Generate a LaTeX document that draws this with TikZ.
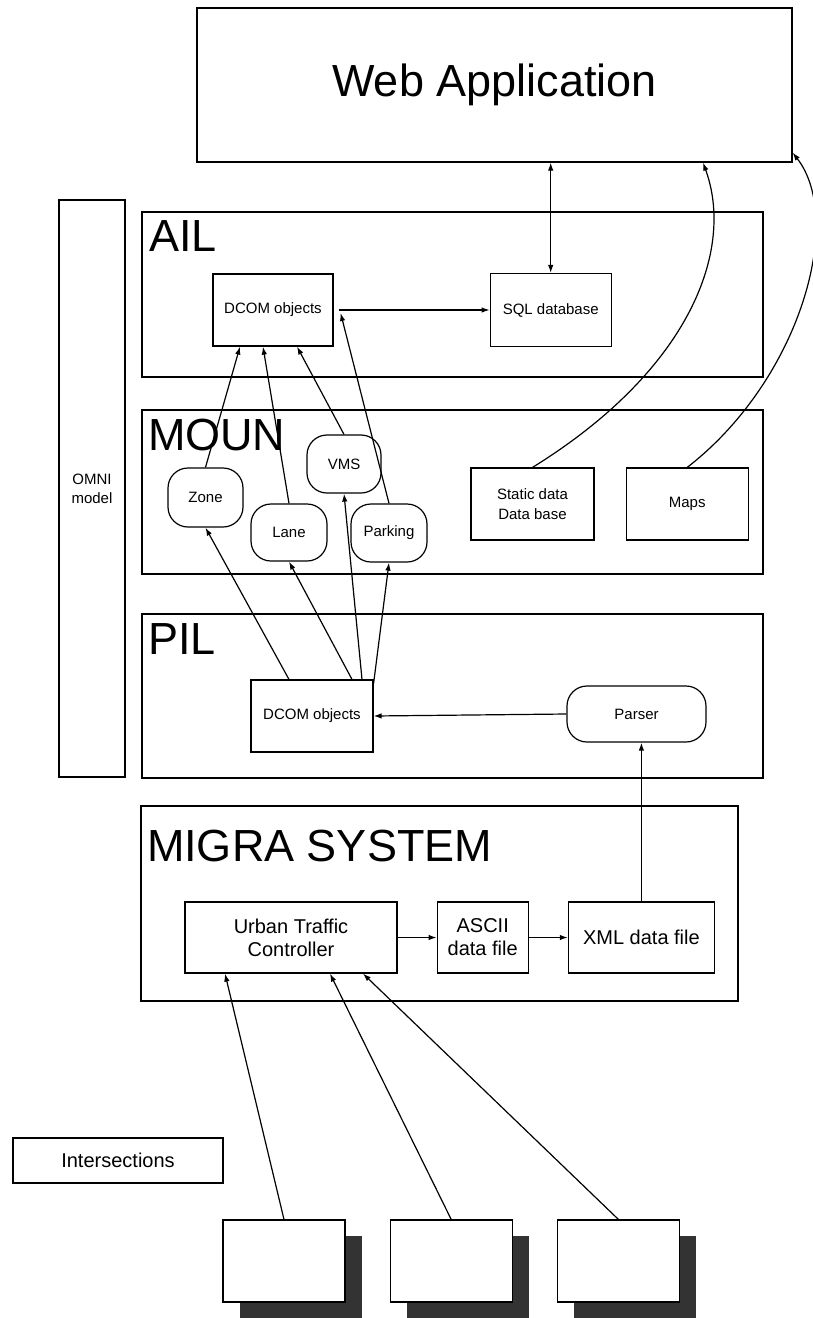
\documentclass[tikz,border=0pt]{standalone}
\usepackage{fontspec}
\setmainfont{Liberation Sans}
\usetikzlibrary{arrows.meta,positioning,shadows}
\definecolor{shadowgray}{RGB}{51,51,51}

\tikzset{
  layer/.style={draw, line width=1.2pt, inner sep=0pt},
  box/.style={draw, line width=1.2pt, fill=white, inner sep=0pt, align=center, font=\fontsize{15}{20}\selectfont},
  blob/.style={box, rounded corners=20pt},
  bigbox/.style={box, font=\fontsize{20}{23}\selectfont},
  title/.style={anchor=base west, inner sep=0pt, font=\fontsize{45}{54}\selectfont},
  site/.style={draw, line width=1.2pt, fill=white, minimum width=122pt, minimum height=82pt,
    drop shadow={shadow xshift=17pt, shadow yshift=-16pt, fill=shadowgray, opacity=1}},
  >={Latex[length=8pt,width=5.5pt]}
}

\begin{document}
\begin{tikzpicture}[x=1pt, y=-1pt, line width=1.2pt]
    \useasboundingbox (0,0) rectangle (813,1318);

    % layers
    \node[layer, minimum width=595pt, minimum height=154pt, font=\fontsize{45}{54}\selectfont] (webapp) at (494.5,85) {Web Application};
    \node[layer, minimum width=66pt, minimum height=577pt, align=center, font=\fontsize{15}{19}\selectfont] (omni) at (92,488.5) {OMNI\\model};
    \node[layer, minimum width=621pt, minimum height=165pt] (ail) at (452.5,294.5) {};
    \node[layer, minimum width=621pt, minimum height=164pt] (moun) at (452.5,492) {};
    \node[layer, minimum width=621pt, minimum height=164pt] (pil) at (452.5,696) {};
    \node[layer, minimum width=597pt, minimum height=195pt] (migra) at (439.5,903.5) {};

    \node[title] (ailtitle) at ([xshift=7pt,yshift=-40pt]ail.north west) {AIL};
    \node[title] (mountitle) at ([xshift=6pt,yshift=-41pt]moun.north west) {MOUN};
    \node[title] (piltitle) at ([xshift=6pt,yshift=-41pt]pil.north west) {PIL};
    \node[title] (migratitle) at ([xshift=6pt,yshift=-56pt]migra.north west) {MIGRA SYSTEM};

    % AIL
    \node[box, minimum width=120pt, minimum height=72pt] (adcom) at (273,310) {DCOM objects};
    \node[box, minimum width=121pt, minimum height=73pt, right=156pt of adcom] (sql) {SQL database};

    % MOUN
    \node[blob, minimum width=75pt, minimum height=59pt] (zone) at (205.5,497.5) {Zone};
    \node[blob, minimum width=76pt, minimum height=57pt] (lane) at (289,532.5) {Lane};
    \node[blob, minimum width=74pt, minimum height=58pt] (vms) at (344,464) {VMS};
    \node[blob, minimum width=76pt, minimum height=58pt] (parking) at (389,533) {Parking};
    \node[box, minimum width=123pt, minimum height=72pt] (static) at (532.5,504) {Static data\\Data base};
    \node[box, minimum width=122pt, minimum height=72pt, right=31pt of static] (maps) {Maps};

    % PIL
    \node[box, minimum width=122pt, minimum height=72pt] (pdcom) at (312,716) {DCOM objects};
    \node[blob, minimum width=139pt, minimum height=56pt] (parser) at (636.5,714) {Parser};

    % MIGRA SYSTEM
    \node[bigbox, minimum width=212pt, minimum height=71pt] (utc) at (291,937.5) {Urban Traffic\\Controller};
    \node[bigbox, minimum width=91pt, minimum height=71pt, right=39pt of utc] (ascii) {ASCII\\data file};
    \node[bigbox, minimum width=146pt, minimum height=71pt, right=39pt of ascii] (xml) {XML data file};

    % intersections
    \node[bigbox, minimum width=210pt, minimum height=45pt] (inter) at (118,1160.5) {Intersections};
    \node[site] (site1) at (284,1261) {};
    \node[site, right=44pt of site1] (site2) {};
    \node[site, right=44pt of site2] (site3) {};

    % connectors
    \draw[<->] (sql.north |- webapp.south) -- (sql.north);
    \draw[->] ([xshift=5pt]adcom.east) -- (sql.west);
    \draw[->] (zone.north) -- ([xshift=-33pt]adcom.south);
    \draw[->] (lane.north) -- ([xshift=-10pt]adcom.south);
    \draw[->] (vms.north) -- ([xshift=24pt]adcom.south);
    \draw[->] (parking.north) -- ([xshift=7pt,yshift=-3pt]adcom.east);
    \draw[->] ([xshift=-23pt]pdcom.north) -- (zone.south);
    \draw[->] ([xshift=40pt]pdcom.north) -- (lane.south);
    \draw[->] ([xshift=50pt]pdcom.north) -- (vms.south);
    \draw[->] ([yshift=-4pt]pdcom.north east) -- (parking.south);
    \draw[->] (parser.west) -- (pdcom.east);
    \draw[->] (xml.north) -- (xml.north |- parser.south);
    \draw[->] (utc) -- (ascii);
    \draw[->] (ascii) -- (xml);
    \draw[->] (site1.north) -- ([xshift=-66pt]utc.south);
    \draw[->] (site2.north) -- ([xshift=39pt]utc.south);
    \draw[->] (site3.north) -- ([xshift=72pt]utc.south);
    \draw[->] (static.north) .. controls (690,370) and (735,250) .. ([xshift=208.5pt]webapp.south);
    \draw[->] (maps.north) .. controls (800,380) and (845,220) .. ([yshift=10pt]webapp.south east);
\end{tikzpicture}
\end{document}
